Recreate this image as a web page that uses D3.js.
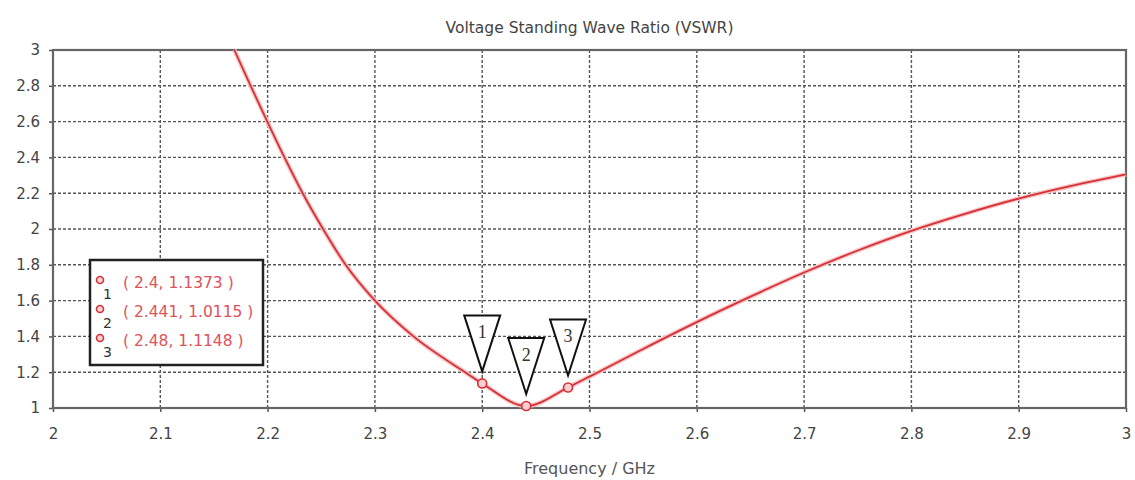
<!DOCTYPE html>
<html>
<head>
<meta charset="utf-8">
<script src="https://cdn.jsdelivr.net/npm/d3@7"></script>
<style>
  body { margin: 0; background: #fff; }
  svg { display: block; font-family: "DejaVu Sans", Verdana, sans-serif; }
</style>
</head>
<body>
<div id="container"></div>
<script>
// curve
const freq = [2.169, 2.1842, 2.1997, 2.2157, 2.2327, 2.2517, 2.2727, 2.3, 2.336, 2.384, 2.4, 2.441, 2.48, 2.5, 2.55, 2.6, 2.65, 2.7, 2.75, 2.8, 2.85, 2.9, 2.95, 3.0]
const vswr = [3.0, 2.8, 2.6, 2.4, 2.2, 2.0, 1.8, 1.6, 1.4, 1.2, 1.1373, 1.0115, 1.1148, 1.175, 1.33, 1.48, 1.622, 1.757, 1.88, 1.99, 2.085, 2.17, 2.242, 2.305]

// markers
const markerId = ["1", "2", "3"]
const markerFreq = [2.4, 2.441, 2.48]
const markerVswr = [1.1373, 1.0115, 1.1148]
const markerText = ["( 2.4, 1.1373 )", "( 2.441, 1.0115 )", "( 2.48, 1.1148 )"]

const xTicks = [2, 2.1, 2.2, 2.3, 2.4, 2.5, 2.6, 2.7, 2.8, 2.9, 3]
const yTicks = [1, 1.2, 1.4, 1.6, 1.8, 2, 2.2, 2.4, 2.6, 2.8, 3]

const W = 1135, H = 480
const plotLeft = 53, plotRight = 1126, plotTop = 50, plotBottom = 408

const svg = d3.select("#container").append("svg")
    .attr("width", W).attr("height", H)

const xScale = d3.scaleLinear().domain([2, 3]).range([plotLeft, plotRight])
const yScale = d3.scaleLinear().domain([1, 3]).range([plotBottom, plotTop])

// title
svg.append("text")
    .attr("x", (plotLeft + plotRight) / 2).attr("y", 33)
    .attr("text-anchor", "middle")
    .style("font-size", "15.5px").style("fill", "#444")
    .text("Voltage Standing Wave Ratio (VSWR)")

// grid
svg.append("g").selectAll("line")
    .data(xTicks.slice(1, -1))
    .enter().append("line")
    .attr("x1", d => xScale(d)).attr("x2", d => xScale(d))
    .attr("y1", plotTop).attr("y2", plotBottom)
    .attr("stroke", "#555").attr("stroke-width", 1.4)
    .attr("stroke-dasharray", "3,2")

svg.append("g").selectAll("line")
    .data(yTicks.slice(1, -1))
    .enter().append("line")
    .attr("x1", plotLeft).attr("x2", plotRight)
    .attr("y1", d => yScale(d)).attr("y2", d => yScale(d))
    .attr("stroke", "#555").attr("stroke-width", 1.4)
    .attr("stroke-dasharray", "3,2")

// axes
const xAxis = svg.append("g")
    .attr("transform", "translate(0," + plotBottom + ")")
    .call(d3.axisBottom(xScale).tickValues(xTicks).tickFormat(d3.format("")).tickSize(4).tickPadding(16))
const yAxis = svg.append("g")
    .attr("transform", "translate(" + plotLeft + ",0)")
    .call(d3.axisLeft(yScale).tickValues(yTicks).tickFormat(d3.format("")).tickSize(4).tickPadding(9))

xAxis.select(".domain").remove()
yAxis.select(".domain").remove()
svg.selectAll(".tick line").attr("stroke", "#555").attr("stroke-width", 1.5)
svg.selectAll(".tick text")
    .style("font-size", "15px").style("fill", "#444")
    .style("font-family", "DejaVu Sans, Verdana, sans-serif")

// frame
svg.append("rect")
    .attr("x", plotLeft).attr("y", plotTop)
    .attr("width", plotRight - plotLeft).attr("height", plotBottom - plotTop)
    .attr("fill", "none").attr("stroke", "#666").attr("stroke-width", 2.2)

svg.append("text")
    .attr("x", (plotLeft + plotRight) / 2).attr("y", 474)
    .attr("text-anchor", "middle")
    .style("font-size", "16px").style("fill", "#555")
    .text("Frequency / GHz")

// curve
const line = d3.line()
    .x((d, i) => xScale(freq[i]))
    .y(d => yScale(d))
    .curve(d3.curveMonotoneX)

svg.append("path")
    .attr("d", line(vswr))
    .attr("fill", "none").attr("stroke", "#f7c4c4").attr("stroke-width", 4.5)
svg.append("path")
    .attr("d", line(vswr))
    .attr("fill", "none").attr("stroke", "#d63038").attr("stroke-width", 1.8)

// marker triangles
const tri = svg.append("g").selectAll("g")
    .data(markerId)
    .enter().append("g")
    .attr("transform", (d, i) => "translate(" + xScale(markerFreq[i]) + "," + (yScale(markerVswr[i]) - 12) + ")")

tri.append("path")
    .attr("d", "M0,0 L-18,-56 L18,-56 Z")
    .attr("fill", "#fff").attr("stroke", "#111").attr("stroke-width", 2)
tri.append("text")
    .attr("x", 0).attr("y", -33)
    .attr("text-anchor", "middle")
    .style("font-family", "Liberation Serif, serif")
    .style("font-size", "18px").style("fill", "#333")
    .text(d => d)

// marker points
svg.append("g").selectAll("circle")
    .data(markerId)
    .enter().append("circle")
    .attr("cx", (d, i) => xScale(markerFreq[i]))
    .attr("cy", (d, i) => yScale(markerVswr[i]))
    .attr("r", 4.5)
    .attr("fill", "#fbd0d0").attr("stroke", "#d63038").attr("stroke-width", 1.6)

// marker legend box
const box = svg.append("g")
box.append("rect")
    .attr("x", 90).attr("y", 260).attr("width", 173).attr("height", 105)
    .attr("fill", "#fff").attr("stroke", "#222").attr("stroke-width", 2.5)

const rows = box.selectAll("g.row")
    .data(markerId)
    .enter().append("g")
    .attr("class", "row")
    .attr("transform", (d, i) => "translate(0," + (280 + i * 29) + ")")

rows.append("circle")
    .attr("cx", 100).attr("cy", 0).attr("r", 3.5)
    .attr("fill", "#fbd0d0").attr("stroke", "#d63038").attr("stroke-width", 1.6)
rows.append("text")
    .attr("x", 103).attr("y", 19)
    .style("font-size", "14px").style("fill", "#333")
    .text(d => d)
rows.append("text")
    .attr("x", 123).attr("y", 8)
    .style("font-size", "15.5px").style("fill", "#e0525a")
    .text((d, i) => markerText[i])
</script>
</body>
</html>
